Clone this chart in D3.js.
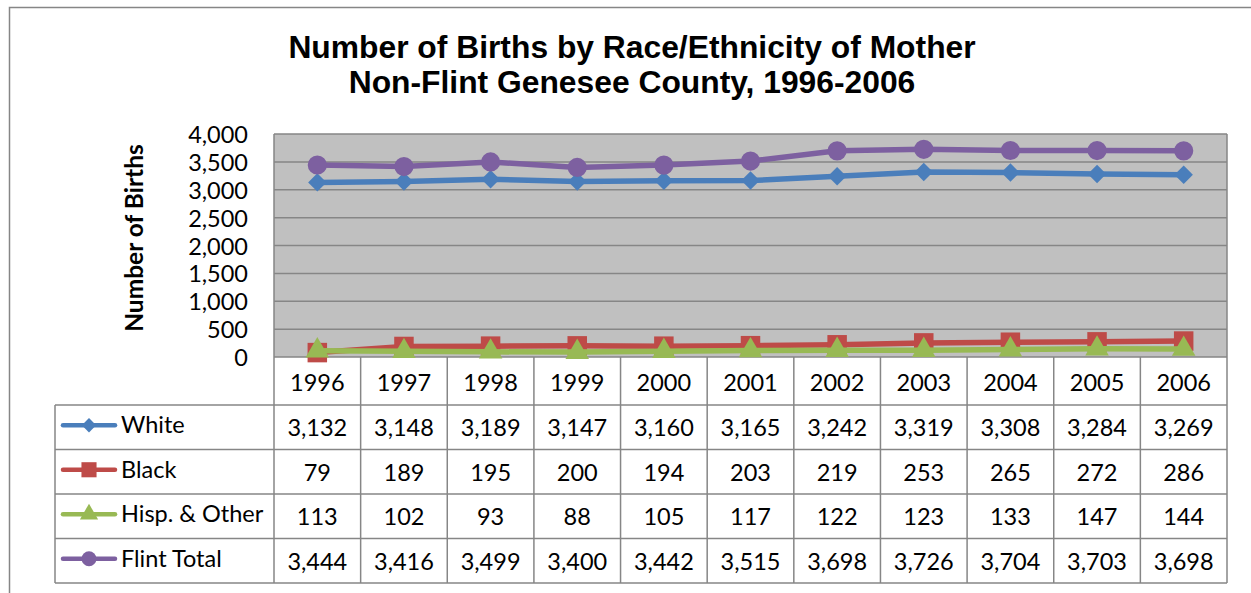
<!DOCTYPE html>
<html>
<head>
<meta charset="utf-8">
<script src="https://cdn.jsdelivr.net/npm/d3@7"></script>
<style>
  body { margin: 0; background: #fff; }
  text { font-family: Lato, "Open Sans", sans-serif; }
</style>
</head>
<body>
<div id="chart"></div>
<script>
const years = ["1996","1997","1998","1999","2000","2001","2002","2003","2004","2005","2006"];
const white = [3132, 3148, 3189, 3147, 3160, 3165, 3242, 3319, 3308, 3284, 3269];
const black = [79, 189, 195, 200, 194, 203, 219, 253, 265, 272, 286];
const hisp = [113, 102, 93, 88, 105, 117, 122, 123, 133, 147, 144];
const flintTotal = [3444, 3416, 3499, 3400, 3442, 3515, 3698, 3726, 3704, 3703, 3698];
const seriesNames = ["White", "Black", "Hisp. & Other", "Flint Total"];
const yTicks = [0, 500, 1000, 1500, 2000, 2500, 3000, 3500, 4000];

const series = [
  { name: seriesNames[0], values: white, color: "#4A7EBB", marker: "diamond" },
  { name: seriesNames[1], values: black, color: "#BE4B48", marker: "square" },
  { name: seriesNames[2], values: hisp, color: "#98B954", marker: "triangle" },
  { name: seriesNames[3], values: flintTotal, color: "#7D60A0", marker: "circle" }
];

const width = 1251, height = 593;
const plotLeft = 274, plotRight = 1227, plotTop = 134, plotBottom = 357;
const tableLeft = 55;
const headerBottom = 405;
const rowH = 44.5;
const fs = "23.5px";

const svg = d3.select("#chart").append("svg")
  .attr("width", width).attr("height", height);

// outer chart border
svg.append("rect")
  .attr("x", 9.5).attr("y", 7.5)
  .attr("width", width + 20).attr("height", height + 20)
  .attr("fill", "#fff").attr("stroke", "#868686").attr("stroke-width", 1.5);

// title
const title = svg.append("text")
  .attr("text-anchor", "middle")
  .style("font-family", "'Liberation Sans', Arial, sans-serif")
  .attr("font-weight", "bold").attr("font-size", "31.8px").attr("fill", "#000");
title.append("tspan").attr("x", 632).attr("y", 58).text("Number of Births by Race/Ethnicity of Mother");
title.append("tspan").attr("x", 632).attr("y", 93).text("Non-Flint Genesee County, 1996-2006");

const x = d3.scaleBand().domain(years).range([plotLeft, plotRight]);
const y = d3.scaleLinear().domain([0, 4000]).range([plotBottom, plotTop]);

// plot area
svg.append("rect")
  .attr("x", plotLeft).attr("y", plotTop)
  .attr("width", plotRight - plotLeft).attr("height", plotBottom - plotTop)
  .attr("fill", "#C0C0C0");

svg.append("g").selectAll("line")
  .data(yTicks)
  .join("line")
  .attr("x1", plotLeft).attr("x2", plotRight)
  .attr("y1", d => y(d)).attr("y2", d => y(d))
  .attr("stroke", "#868686").attr("stroke-width", 1.5);

svg.append("line")
  .attr("x1", plotLeft).attr("x2", plotLeft)
  .attr("y1", plotTop).attr("y2", plotBottom)
  .attr("stroke", "#868686").attr("stroke-width", 1.5);

// y axis labels
svg.append("g").selectAll("text")
  .data(yTicks)
  .join("text")
  .attr("x", 248).attr("y", d => y(d))
  .attr("text-anchor", "end").attr("dominant-baseline", "central")
  .attr("font-size", fs).attr("fill", "#000")
  .text(d => d3.format(",")(d));

svg.append("text")
  .attr("transform", "translate(133,238) rotate(-90)")
  .attr("text-anchor", "middle").attr("dominant-baseline", "central")
  .attr("font-weight", "bold").attr("font-size", "24.5px").attr("fill", "#000")
  .text("Number of Births");

// data table
const tableBottom = headerBottom + rowH * series.length;
const grid = svg.append("g").attr("stroke", "#868686").attr("stroke-width", 1.5);
years.forEach(yr => {
  grid.append("line")
    .attr("x1", x(yr)).attr("x2", x(yr))
    .attr("y1", plotBottom).attr("y2", tableBottom);
});
grid.append("line")
  .attr("x1", plotRight).attr("x2", plotRight)
  .attr("y1", plotTop).attr("y2", tableBottom);
grid.append("line")
  .attr("x1", tableLeft).attr("x2", tableLeft)
  .attr("y1", headerBottom).attr("y2", tableBottom);
d3.range(series.length + 1).forEach(r => {
  const yy = headerBottom + r * rowH;
  grid.append("line")
    .attr("x1", tableLeft).attr("x2", plotRight)
    .attr("y1", yy).attr("y2", yy);
});

svg.append("g").selectAll("text")
  .data(years)
  .join("text")
  .attr("x", d => x(d) + x.bandwidth() / 2)
  .attr("y", (plotBottom + headerBottom) / 2 + 1)
  .attr("text-anchor", "middle").attr("dominant-baseline", "central")
  .attr("font-size", fs).attr("fill", "#000")
  .text(d => d);

function markerPath(type, size) {
  const sym = { diamond: d3.symbolSquare, square: d3.symbolSquare, triangle: d3.symbolTriangle, circle: d3.symbolCircle }[type];
  return d3.symbol().type(sym).size(size)();
}
const markerSize = { diamond: 170, square: 380, triangle: 240, circle: 290 };
const markerRot = { diamond: 45, square: 0, triangle: 0, circle: 0 };

series.forEach((s, si) => {
  const rowY = headerBottom + si * rowH + rowH / 2;
  const row = svg.append("g");
  row.selectAll("text.val")
    .data(s.values)
    .join("text")
    .attr("class", "val")
    .attr("x", (d, i) => x(years[i]) + x.bandwidth() / 2)
    .attr("y", rowY)
    .attr("text-anchor", "middle").attr("dominant-baseline", "central")
    .attr("font-size", fs).attr("fill", "#000")
    .text(d => d3.format(",")(d));

  // legend key
  row.append("line")
    .attr("x1", 63).attr("x2", 115)
    .attr("y1", rowY - 2).attr("y2", rowY - 2)
    .attr("stroke", s.color).attr("stroke-width", 4.5).attr("stroke-linecap", "round");
  row.append("path")
    .attr("d", markerPath(s.marker, markerSize[s.marker] * 0.6))
    .attr("transform", `translate(89,${rowY - 2}) rotate(${markerRot[s.marker]})`)
    .attr("fill", s.color);
  row.append("text")
    .attr("x", 121).attr("y", rowY - 3)
    .attr("dominant-baseline", "central")
    .attr("font-size", fs).attr("fill", "#000")
    .text(s.name);
});

// lines and markers
const line = d3.line()
  .x((d, i) => x(years[i]) + x.bandwidth() / 2)
  .y(d => y(d));

series.forEach(s => {
  const g = svg.append("g");
  g.append("path")
    .datum(s.values)
    .attr("d", line)
    .attr("fill", "none")
    .attr("stroke", s.color).attr("stroke-width", 5.5)
    .attr("stroke-linejoin", "round");
  g.selectAll("path.m")
    .data(s.values)
    .join("path")
    .attr("class", "m")
    .attr("d", markerPath(s.marker, markerSize[s.marker]))
    .attr("transform", (d, i) => `translate(${x(years[i]) + x.bandwidth() / 2},${y(d)}) rotate(${markerRot[s.marker]})`)
    .attr("fill", s.color);
});
</script>
</body>
</html>
